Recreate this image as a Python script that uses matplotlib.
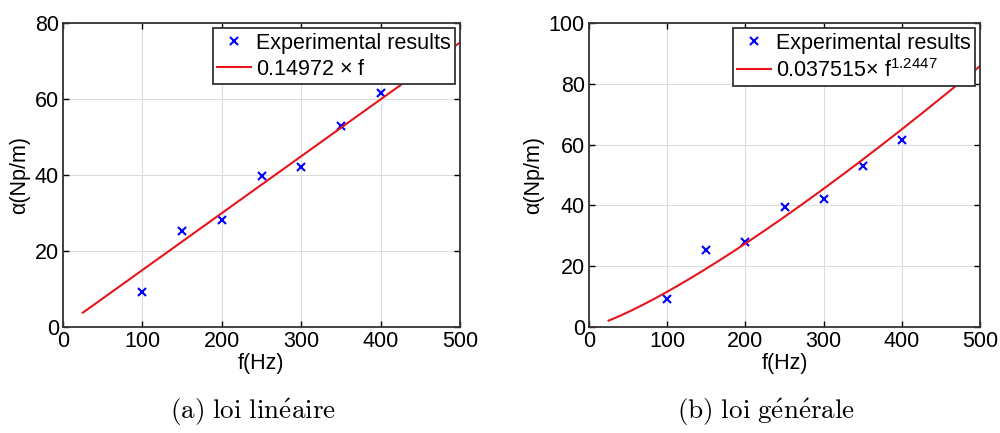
import matplotlib.pyplot as plt
import numpy as np

plt.rcParams['font.family'] = ['Liberation Sans', 'DejaVu Sans']
plt.rcParams['mathtext.fontset'] = 'custom'
plt.rcParams['mathtext.rm'] = 'Liberation Sans'
plt.rcParams['mathtext.it'] = 'Liberation Sans:italic'

# mesures
f_mes = [100, 150, 200, 250, 300, 350, 400]
alpha_mes = [9.2, 25.3, 28.1, 39.6, 42.0, 52.8, 61.6]

# lois ajustées (coefficients lus dans les légendes)
k_lin = 0.14972
k_gen = 0.037515
n_gen = 1.2447
f_fit = np.linspace(25, 500, 200)

panels = [
    dict(pos=[0.063, 0.245, 0.397, 0.702], ymax=80,
         curve=k_lin * f_fit, label='0.14972 $\\times$ f',
         caption='$\\mathrm{(a)\\ loi\\ lin\\acute{e}aire}$', cx=0.253),
    dict(pos=[0.589, 0.245, 0.391, 0.702], ymax=100,
         curve=k_gen * f_fit ** n_gen, label='0.037515$\\times$ f$^{1.2447}$',
         caption='$\\mathrm{(b)\\ loi\\ g\\acute{e}n\\acute{e}rale}$', cx=0.766),
]

fig = plt.figure(figsize=(10, 4.33), dpi=100)
for p in panels:
    ax = fig.add_axes(p['pos'])
    ax.plot(f_mes, alpha_mes, 'x', color='#0000ff', ms=6, mew=1.5,
            label='Experimental results')
    ax.plot(f_fit, p['curve'], '-', color='#e8141c', lw=1.5, label=p['label'])
    ax.set_xlim(0, 500)
    ax.set_ylim(0, p['ymax'])
    ax.set_xticks(range(0, 501, 100))
    ax.set_yticks(range(0, p['ymax'] + 1, 20))
    ax.grid(True, color='#dcdcdc', lw=0.8)
    ax.tick_params(direction='in', top=True, right=True, labelsize=15.5,
                   length=4, width=1, pad=3)
    for s in ax.spines.values():
        s.set_linewidth(1.3)
        s.set_color('#333333')
    ax.set_xlabel('f(Hz)', fontsize=15.5, labelpad=1)
    ax.set_ylabel('α(Np/m)', fontsize=15.5, labelpad=3)
    leg = ax.legend(loc='upper right', fontsize=15.5, fancybox=False,
                    framealpha=1, edgecolor='#333333', borderaxespad=0.25,
                    handlelength=1.6, handletextpad=0.2, borderpad=0.2,
                    labelspacing=0.25)
    leg.get_frame().set_linewidth(1.3)
    fig.text(p['cx'], 0.047, p['caption'], ha='center', va='center',
             fontsize=19.5, math_fontfamily='cm')

plt.savefig('out.png', dpi=100)
